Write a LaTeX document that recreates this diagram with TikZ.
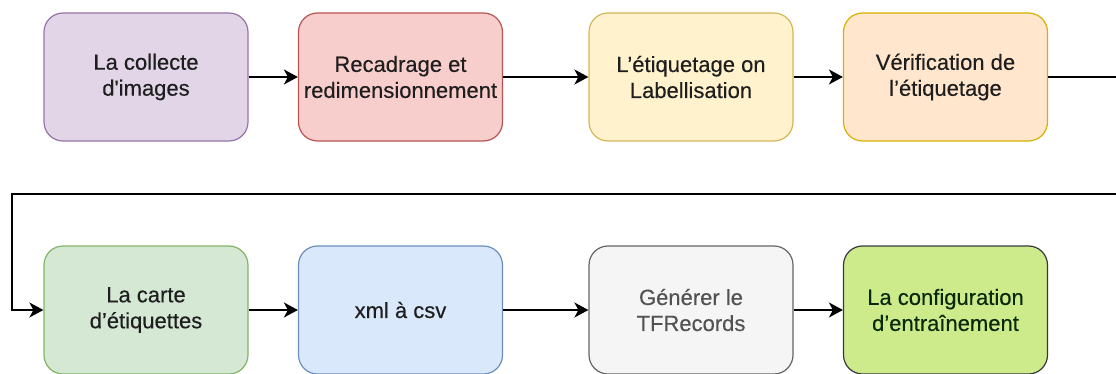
\documentclass[tikz,border=0pt]{standalone}
\usepackage{fontspec}
% TeX mapping off, so that a typed ' stays a straight apostrophe
\setmainfont{Liberation Sans}[Ligatures=TeXOff, FakeBold=0.3]
\usetikzlibrary{arrows.meta}
\definecolor{purpleF}{HTML}{E1D5E7}\definecolor{purpleD}{HTML}{9673A6}
\definecolor{redF}{HTML}{F8CECC}\definecolor{redD}{HTML}{B85450}
\definecolor{yellowF}{HTML}{FFF2CC}\definecolor{yellowD}{HTML}{D6B656}
\definecolor{orangeF}{HTML}{FFE6CC}\definecolor{orangeD}{HTML}{D7B000}
\definecolor{greenF}{HTML}{D5E8D4}\definecolor{greenD}{HTML}{82B366}
\definecolor{blueF}{HTML}{DAE8FC}\definecolor{blueD}{HTML}{6C8EBF}
\definecolor{grayF}{HTML}{F5F5F5}\definecolor{grayD}{HTML}{666666}
\definecolor{limeF}{HTML}{CDEB8B}\definecolor{limeD}{HTML}{36393D}
\definecolor{txt}{HTML}{1E1E1E}
\begin{document}
\begin{tikzpicture}[x=1pt,y=-1pt,
  stepbox/.style={rounded corners=19pt, line width=1.2pt, minimum width=204pt,
    minimum height=128pt, align=center, text=txt, inner sep=0pt,
    font=\fontsize{22}{26}\selectfont},
  flow/.style={line width=1.8pt, -{Stealth[length=14pt,width=15pt,inset=4pt]}}]
\useasboundingbox (0,0) rectangle (1116,374);
\clip (0,0) rectangle (1116,374);
% first row
\node[stepbox, fill=purpleF, draw=purpleD] (a) at (146,77) {La collecte\\d'images};
\node[stepbox, fill=redF, draw=redD] (b) at (400.5,77) {Recadrage et\\redimensionnement};
\node[stepbox, fill=yellowF, draw=yellowD] (c) at (691,77) {L’étiquetage on\\Labellisation};
\node[stepbox, fill=orangeF, draw=orangeD] (d) at (945.5,77) {Vérification de\\l’étiquetage};
% second row
\node[stepbox, fill=greenF, draw=greenD] (e) at (146,310) {La carte\\d’étiquettes};
\node[stepbox, fill=blueF, draw=blueD] (f) at (400.5,310) {xml à csv};
\node[stepbox, fill=grayF, draw=grayD, text=grayD!80!black] (g) at (691,310) {Générer le\\TFRecords};
\node[stepbox, fill=limeF, draw=limeD, text=limeD!60!green!30!black] (h) at (945.5,310) {La configuration\\d’entraînement};
% connectors
\coordinate (r1) at (1130,77);
\coordinate (r2) at (1130,194);
\coordinate (l1) at (12,194);
\coordinate (l2) at (12,310);
\draw[flow] (a) -- (b);
\draw[flow] (b) -- (c);
\draw[flow] (c) -- (d);
\draw[flow] (d.east) -- (r1) -- (r2) -- (l1) -- (l2) -- (e.west);
\draw[flow] (e) -- (f);
\draw[flow] (f) -- (g);
\draw[flow] (g) -- (h);
\end{tikzpicture}
\end{document}
